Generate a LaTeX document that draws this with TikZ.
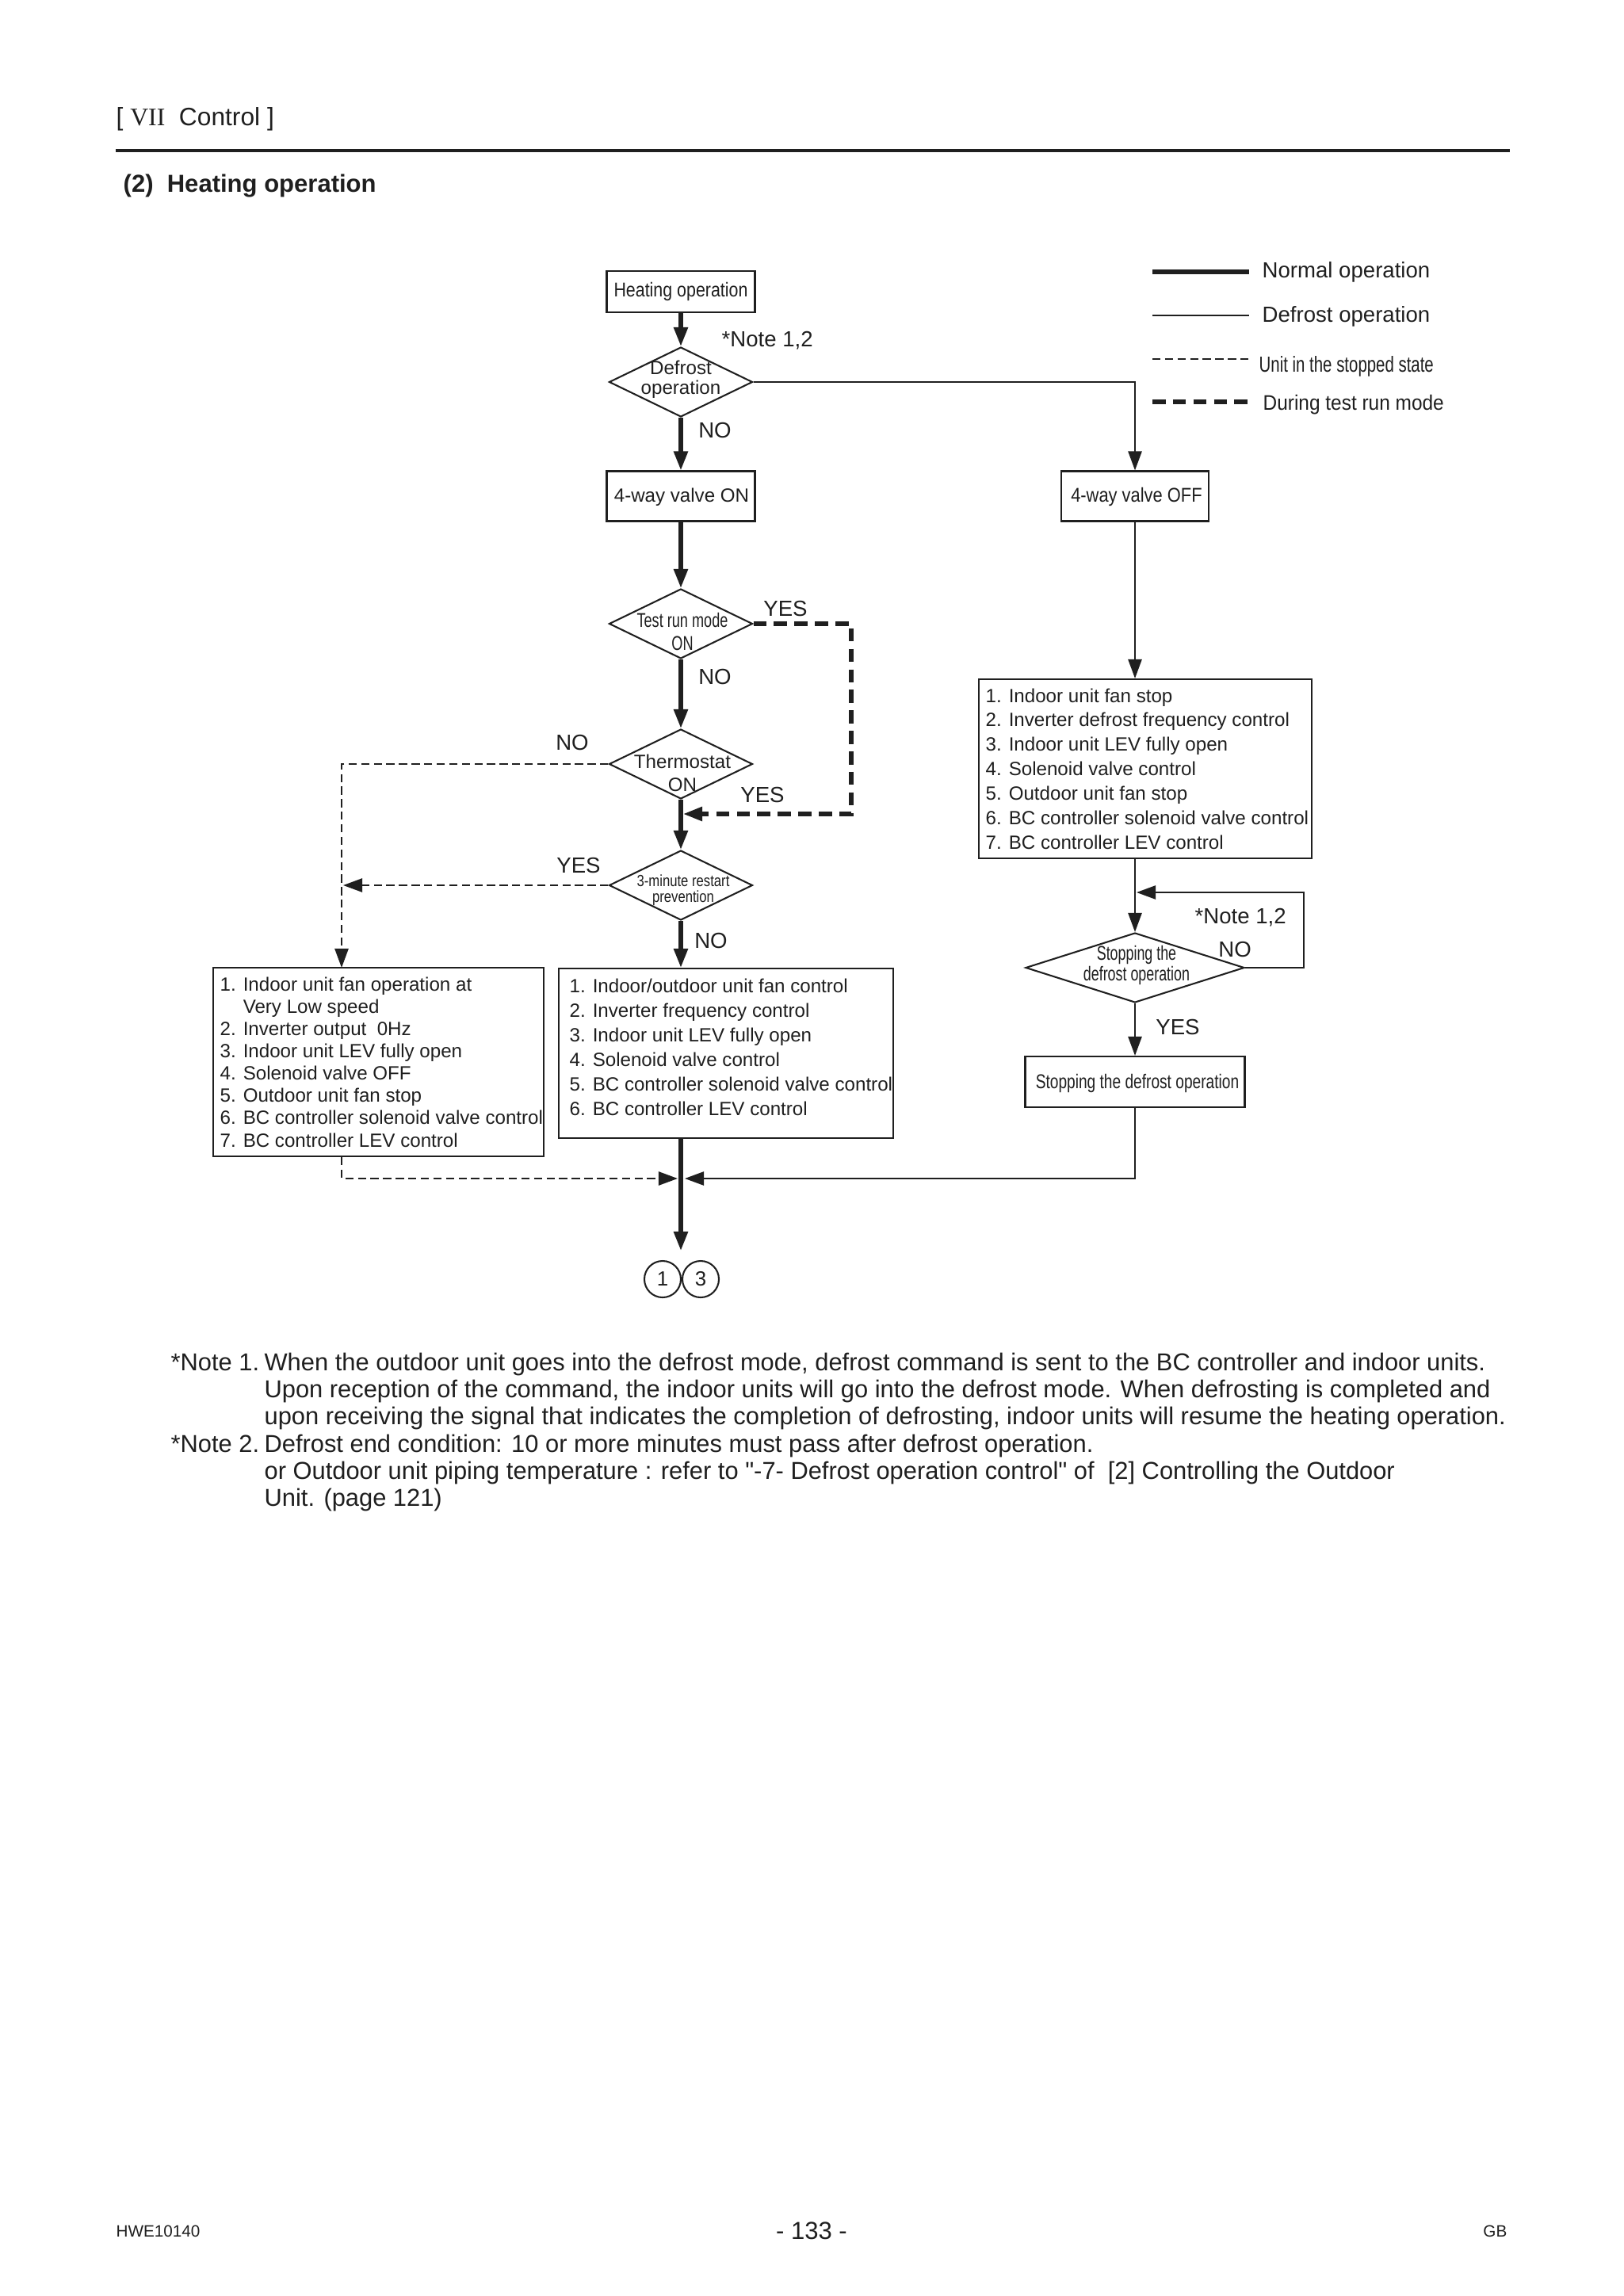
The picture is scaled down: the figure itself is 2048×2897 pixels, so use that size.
\documentclass[tikz,border=0pt]{standalone}
\usepackage{fontspec}
\usepackage{graphicx}
\setmainfont{Liberation Sans}[Ligatures=TeXOff]
\newfontfamily\timesf{Liberation Serif}
\usetikzlibrary{shapes.geometric,arrows.meta}
\newcommand\pxu{0.29pt}
\newcommand\hsq[2]{\scalebox{#1}[1]{#2}}
\newcommand\fsz[2]{\fontsize{#1pt}{#2pt}\selectfont}
\definecolor{ink}{gray}{0.12}
\begin{document}
\begin{tikzpicture}[x=0.29pt,y=-0.29pt,color=ink,
  frame/.style={draw, line width=0.6pt, rectangle, inner sep=0pt},
  dia/.style={draw, line width=0.6pt, diamond, inner sep=0pt},
  lbl/.style={inner sep=0pt, font=\fsz{8}{9.6}},
  arr/.style={-{Triangle[length=7pt,width=5pt]}},
  normal/.style={line width=1.5pt},
  defr/.style={line width=0.6pt},
  stopped/.style={line width=0.6pt, dash pattern=on 3pt off 1.6pt},
  testrun/.style={line width=1.5pt, dash pattern=on 4.8pt off 2.7pt},
]
\useasboundingbox (0,0) rectangle (2048,2897);
\fill[white] (0,0) rectangle (2048,2897);

% header
\node[anchor=west, inner sep=0pt, font=\fsz{9.2}{11}] (hdr) at (146,150) {[\ {\timesf VII}\ \ Control\ ]};
\draw[line width=1.4pt] (146,190) -- (1905,190);
\node[anchor=west, inner sep=0pt, font=\bfseries\fsz{9}{11}] (ttl) at (155,235) {(2)\ \ Heating operation};

% legend
\draw[normal] (1454,343) -- (1576,343);
\draw[defr] (1454,398) -- (1576,398);
\draw[stopped] (1454,453) -- (1576,453);
\draw[testrun] (1454,507) -- (1576,507);
\node[lbl, anchor=west] (lg1) at (1592,343) {Normal operation};
\node[lbl, anchor=west] (lg2) at (1592,399) {Defrost operation};
\node[lbl, anchor=west] (lg3) at (1588,462) {\hsq{0.74}{Unit in the stopped state}};
\node[lbl, anchor=west, font=\fsz{7.7}{9}] (lg4) at (1593,511) {\hsq{0.92}{During test run mode}};

% main column
\node[frame, minimum width=187*\pxu, minimum height=52*\pxu] (hbox) at (859,368) {};
\node[inner sep=0pt, font=\fsz{7.3}{8}] (hboxt) at (859,368) {\hsq{0.85}{Heating operation}};

\node[dia, minimum width=181*\pxu, minimum height=88*\pxu] (dfr) at (859,482) {};
\node[inner sep=0pt, align=center, font=\fsz{7}{7.25}] (dfrt) at (859,479) {Defrost\\operation};

\node[frame, minimum width=187*\pxu, minimum height=63*\pxu] (onbox) at (859,626) {};
\node[inner sep=0pt, font=\fsz{7}{8}] (onboxt) at (860,627) {4-way valve ON};

\node[dia, minimum width=181*\pxu, minimum height=88*\pxu] (test) at (859,787) {};
\node[inner sep=0pt, align=center, font=\fsz{7.3}{8.4}] (testt) at (861,797) {\hsq{0.72}{Test run mode}\\\hsq{0.72}{ON}};

\node[dia, minimum width=181*\pxu, minimum height=88*\pxu] (thermo) at (859,964) {};
\node[inner sep=0pt, align=center, font=\fsz{7}{8.4}] (thermot) at (861,975) {Thermostat\\ON};

\node[dia, minimum width=181*\pxu, minimum height=88*\pxu] (tmin) at (859,1117) {};
\node[inner sep=0pt, align=center, font=\fsz{5.9}{5.8}] (tmint) at (862,1123) {\hsq{0.82}{3-minute restart}\\\hsq{0.82}{prevention}};

\node[frame, minimum width=417*\pxu, minimum height=238*\pxu] (lbox) at (477.5,1340) {};
\node[anchor=west, align=left, inner sep=0pt, font=\fsz{7}{8.15}] (lboxt) at (277,1340) {1. Indoor unit fan operation at\\\phantom{1. }Very Low speed\\2. Inverter output\ \ 0Hz\\3. Indoor unit LEV fully open\\4. Solenoid valve OFF\\5. Outdoor unit fan stop\\6. BC controller solenoid valve control\\7. BC controller LEV control};

\node[frame, minimum width=422*\pxu, minimum height=214*\pxu] (mbox) at (916,1329) {};
\node[anchor=west, align=left, inner sep=0pt, font=\fsz{7}{9}] (mboxt) at (718,1321) {1. Indoor/outdoor unit fan control\\2. Inverter frequency control\\3. Indoor unit LEV fully open\\4. Solenoid valve control\\5. BC controller solenoid valve control\\6. BC controller LEV control};

% right column
\node[frame, minimum width=186*\pxu, minimum height=63*\pxu] (offbox) at (1432,626) {};
\node[inner sep=0pt, font=\fsz{7.3}{8}] (offboxt) at (1434,627) {\hsq{0.87}{4-way valve OFF}};

\node[frame, minimum width=420*\pxu, minimum height=226*\pxu] (rbox) at (1445,970) {};
\node[anchor=west, align=left, inner sep=0pt, font=\fsz{7}{8.95}] (rboxt) at (1243,970) {1. Indoor unit fan stop\\2. Inverter defrost frequency control\\3. Indoor unit LEV fully open\\4. Solenoid valve control\\5. Outdoor unit fan stop\\6. BC controller solenoid valve control\\7. BC controller LEV control};

\node[dia, minimum width=276*\pxu, minimum height=88*\pxu] (stopd) at (1432,1221) {};
\node[inner sep=0pt, align=center, font=\fsz{7.3}{6.7}] (stopdt) at (1434,1218) {\hsq{0.71}{Stopping the}\\\hsq{0.71}{defrost operation}};

\node[frame, minimum width=277*\pxu, minimum height=64*\pxu] (stopbox) at (1432,1365) {};
\node[inner sep=0pt, font=\fsz{7.3}{8}] (stopboxt) at (1435,1367) {\hsq{0.76}{Stopping the defrost operation}};

% end connectors
\node[circle, draw, line width=0.6pt, minimum size=46*\pxu, inner sep=0pt, font=\fsz{7.5}{9}] (c1) at (836,1614) {1};
\node[circle, draw, line width=0.6pt, minimum size=46*\pxu, inner sep=0pt, font=\fsz{7.5}{9}] (c3) at (884,1614) {3};

% labels
\node[lbl, anchor=west] (n12a) at (910,430) {*Note 1,2};
\node[lbl] (no1) at (902,543) {NO};
\node[lbl] (yes1) at (991,768) {YES};
\node[lbl] (no2) at (902,854) {NO};
\node[lbl] (no3) at (722,937) {NO};
\node[lbl] (yes2) at (962,1003) {YES};
\node[lbl] (yes3) at (730,1092) {YES};
\node[lbl] (no4) at (897,1187) {NO};
\node[lbl, anchor=west] (n12b) at (1507,1158) {*Note 1,2};
\node[lbl] (no5) at (1558,1198) {NO};
\node[lbl] (yes4) at (1486,1296) {YES};

% coordinates
\coordinate (tr1) at (1074,1027);
\coordinate (jn1) at (862,1027);
\coordinate (lcol) at (431,1221);
\coordinate (lyes) at (433,1117);
\coordinate (jl) at (855,1487);
\coordinate (jr) at (864,1487);
\coordinate (endc) at (859,1578);
\coordinate (lpr) at (1645,1126);
\coordinate (lpj) at (1434,1126);

% main flow
\draw[normal,arr] (hbox.south) -- (dfr.north);
\draw[normal,arr] (dfr.south) -- (onbox.north);
\draw[normal,arr] (onbox.south) -- (test.north);
\draw[normal,arr] (test.south) -- (thermo.north);
\draw[normal,arr] (thermo.south) -- (tmin.north);
\draw[normal,arr] (tmin.south) -- (tmin.south |- mbox.north);
\draw[normal,arr] (mbox.south -| tmin.south) -- (endc);

% test run
\draw[testrun,arr] (test.east) -| (tr1) -- (jn1);

% stopped state
\draw[stopped,arr] (thermo.west) -| (lcol);
\draw[stopped,arr] (tmin.west) -- (lyes);
\draw[stopped,arr] (lbox.south -| lcol) |- (jl);

% defrost
\draw[defr,arr] (dfr.east) -| (offbox.north);
\draw[defr,arr] (offbox.south) -- (offbox.south |- rbox.north);
\draw[defr,arr] (rbox.south -| offbox.south) -- (stopd.north);
\draw[defr,arr] (stopd.east) -| (lpr) -- (lpj);
\draw[defr,arr] (stopd.south) -- (stopbox.north);
\draw[defr,arr] (stopbox.south) |- (jr);

% notes
\node[anchor=north west, inner sep=0pt, font=\fsz{8.95}{9.9}] (notes) at (215,1705) {\begin{tabular}{@{}p{34.2pt}@{}l@{}}
{*}Note 1. & When the outdoor unit goes into the defrost mode, defrost command is sent to the BC controller and indoor units.\\
 & Upon reception of the command, the indoor units will go into the defrost mode. When defrosting is completed and\\
 & upon receiving the signal that indicates the completion of defrosting, indoor units will resume the heating operation.\\
{*}Note 2. & Defrost end condition: 10 or more minutes must pass after defrost operation.\\
 & or Outdoor unit piping temperature : refer to "-7- Defrost operation control" of\ \ [2] Controlling the Outdoor\\
 & Unit. (page 121)
\end{tabular}};

% footer
\node[anchor=west, inner sep=0pt, font=\fsz{6}{7}] (ftl) at (146,2815) {HWE10140};
\node[inner sep=0pt, font=\fsz{9}{10}] (ftc) at (1024,2815) {- 133 -};
\node[anchor=east, inner sep=0pt, font=\fsz{6}{7}] (ftr) at (1902,2815) {GB};
\end{tikzpicture}
\end{document}
